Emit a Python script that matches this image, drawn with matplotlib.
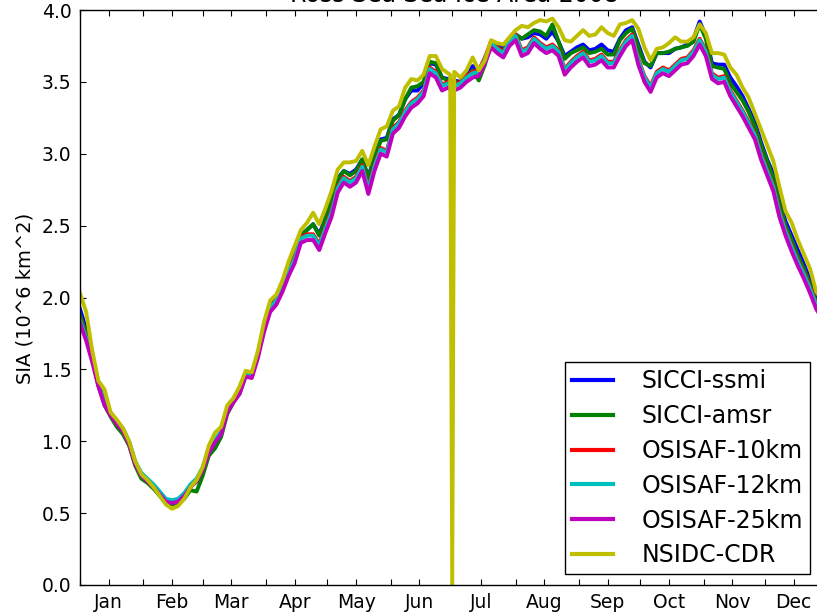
import matplotlib
matplotlib.use("Agg")
import matplotlib.pyplot as plt
from matplotlib.ticker import FixedLocator, NullFormatter, FixedFormatter

# ---- data (day of year, 0 = 1 Jan 2008) ----
days = list(range(0, 181, 3)) + [181, 182] + list(range(183, 364, 3)) + [365]

sicci_ssmi = [
    1.92, 1.78, 1.60, 1.40, 1.27, 1.19, 1.13, 1.08, 0.99, 0.85,
    0.77, 0.73, 0.68, 0.63, 0.58, 0.57, 0.58, 0.62, 0.69, 0.72,
    0.80, 0.93, 0.99, 1.06, 1.21, 1.28, 1.34, 1.47, 1.46, 1.60,
    1.80, 1.95, 1.99, 2.09, 2.21, 2.31, 2.43, 2.47, 2.51, 2.44,
    2.55, 2.67, 2.83, 2.88, 2.86, 2.89, 2.96, 2.84, 2.98, 3.10,
    3.11, 3.24, 3.27, 3.38, 3.44, 3.44, 3.49, 3.63, 3.62, 3.53,
    3.52, 3.51, 3.50, 3.51, 3.50, 3.55, 3.61, 3.57, 3.65, 3.78,
    3.75, 3.73, 3.79, 3.83, 3.80, 3.81, 3.84, 3.83, 3.80, 3.85,
    3.78, 3.68, 3.71, 3.74, 3.76, 3.72, 3.73, 3.76, 3.72, 3.71,
    3.80, 3.86, 3.88, 3.76, 3.64, 3.60, 3.70, 3.70, 3.70, 3.73,
    3.74, 3.76, 3.80, 3.92, 3.82, 3.63, 3.62, 3.62, 3.53, 3.47,
    3.40, 3.31, 3.22, 3.08, 2.96, 2.86, 2.67, 2.53, 2.43, 2.33,
    2.23, 2.12, 1.99, 1.93, 1.87]

sicci_amsr = [
    1.88, 1.75, 1.58, 1.39, 1.25, 1.17, 1.10, 1.05, 0.97, 0.83,
    0.74, 0.71, 0.67, 0.62, 0.57, 0.56, 0.57, 0.60, 0.66, 0.65,
    0.76, 0.90, 0.95, 1.03, 1.19, 1.27, 1.33, 1.46, 1.45, 1.60,
    1.79, 1.94, 1.98, 2.08, 2.20, 2.31, 2.43, 2.47, 2.51, 2.43,
    2.54, 2.66, 2.82, 2.88, 2.85, 2.88, 2.96, 2.83, 2.97, 3.09,
    3.10, 3.23, 3.27, 3.38, 3.46, 3.47, 3.50, 3.64, 3.63, 3.53,
    3.51, 3.50, 3.50, 3.50, 3.49, 3.53, 3.58, 3.51, 3.62, 3.77,
    3.74, 3.72, 3.79, 3.83, 3.80, 3.83, 3.86, 3.85, 3.82, 3.90,
    3.78, 3.66, 3.70, 3.72, 3.74, 3.70, 3.71, 3.73, 3.69, 3.69,
    3.79, 3.84, 3.87, 3.74, 3.63, 3.61, 3.70, 3.70, 3.71, 3.73,
    3.74, 3.75, 3.78, 3.90, 3.80, 3.61, 3.60, 3.59, 3.49, 3.43,
    3.37, 3.29, 3.19, 3.06, 2.95, 2.83, 2.65, 2.50, 2.40, 2.29,
    2.20, 2.09, 1.97, 1.91, 1.85]

osisaf_10km = [
    1.85, 1.72, 1.57, 1.39, 1.26, 1.19, 1.13, 1.08, 0.99, 0.85,
    0.77, 0.73, 0.69, 0.64, 0.59, 0.58, 0.59, 0.63, 0.69, 0.73,
    0.81, 0.93, 1.00, 1.06, 1.21, 1.28, 1.34, 1.46, 1.45, 1.60,
    1.78, 1.94, 1.99, 2.08, 2.19, 2.28, 2.42, 2.44, 2.44, 2.37,
    2.49, 2.60, 2.77, 2.84, 2.81, 2.84, 2.92, 2.76, 2.92, 3.04,
    3.02, 3.18, 3.22, 3.30, 3.36, 3.39, 3.44, 3.60, 3.57, 3.48,
    3.50, 3.49, 3.48, 3.48, 3.50, 3.54, 3.57, 3.58, 3.67, 3.78,
    3.74, 3.71, 3.79, 3.83, 3.72, 3.74, 3.81, 3.77, 3.74, 3.76,
    3.72, 3.59, 3.64, 3.68, 3.71, 3.65, 3.66, 3.69, 3.64, 3.64,
    3.72, 3.79, 3.83, 3.66, 3.54, 3.47, 3.57, 3.60, 3.58, 3.62,
    3.66, 3.67, 3.72, 3.80, 3.72, 3.56, 3.53, 3.54, 3.44, 3.37,
    3.30, 3.22, 3.14, 3.00, 2.89, 2.78, 2.60, 2.47, 2.36, 2.26,
    2.17, 2.07, 1.96, 1.89, 1.82]

osisaf_12km = [
    1.84, 1.72, 1.57, 1.39, 1.27, 1.20, 1.14, 1.09, 1.00, 0.86,
    0.78, 0.74, 0.70, 0.65, 0.60, 0.59, 0.60, 0.64, 0.70, 0.74,
    0.82, 0.94, 1.01, 1.07, 1.22, 1.29, 1.35, 1.47, 1.46, 1.61,
    1.79, 1.93, 1.98, 2.07, 2.18, 2.27, 2.41, 2.43, 2.43, 2.36,
    2.48, 2.59, 2.76, 2.83, 2.80, 2.83, 2.91, 2.75, 2.91, 3.03,
    3.01, 3.17, 3.21, 3.29, 3.35, 3.38, 3.43, 3.59, 3.56, 3.47,
    3.49, 3.48, 3.47, 3.47, 3.49, 3.53, 3.56, 3.57, 3.66, 3.77,
    3.73, 3.70, 3.78, 3.82, 3.71, 3.73, 3.80, 3.76, 3.73, 3.75,
    3.71, 3.58, 3.63, 3.67, 3.70, 3.64, 3.65, 3.68, 3.63, 3.63,
    3.71, 3.78, 3.82, 3.65, 3.53, 3.46, 3.56, 3.59, 3.57, 3.61,
    3.65, 3.66, 3.71, 3.79, 3.71, 3.55, 3.52, 3.53, 3.43, 3.36,
    3.29, 3.21, 3.13, 2.99, 2.88, 2.77, 2.59, 2.46, 2.35, 2.25,
    2.16, 2.06, 1.95, 1.88, 1.81]

osisaf_25km = [
    1.82, 1.70, 1.55, 1.38, 1.25, 1.18, 1.12, 1.07, 0.98, 0.84,
    0.76, 0.72, 0.68, 0.63, 0.58, 0.57, 0.58, 0.62, 0.68, 0.72,
    0.80, 0.92, 0.99, 1.05, 1.20, 1.27, 1.33, 1.45, 1.44, 1.58,
    1.76, 1.90, 1.95, 2.04, 2.15, 2.24, 2.38, 2.40, 2.40, 2.33,
    2.45, 2.56, 2.73, 2.80, 2.77, 2.80, 2.88, 2.72, 2.88, 3.00,
    2.98, 3.14, 3.18, 3.26, 3.32, 3.35, 3.40, 3.56, 3.53, 3.44,
    3.46, 3.45, 3.44, 3.44, 3.46, 3.50, 3.53, 3.54, 3.63, 3.74,
    3.70, 3.67, 3.75, 3.79, 3.68, 3.70, 3.77, 3.73, 3.70, 3.72,
    3.68, 3.55, 3.60, 3.64, 3.67, 3.61, 3.62, 3.65, 3.60, 3.60,
    3.68, 3.75, 3.79, 3.62, 3.50, 3.43, 3.53, 3.56, 3.54, 3.58,
    3.62, 3.63, 3.68, 3.76, 3.68, 3.52, 3.49, 3.50, 3.40, 3.33,
    3.26, 3.18, 3.10, 2.96, 2.85, 2.74, 2.56, 2.43, 2.32, 2.22,
    2.13, 2.03, 1.92, 1.85, 1.78]

nsidc_cdr = [
    2.03, 1.90, 1.63, 1.42, 1.36, 1.20, 1.15, 1.09, 1.00, 0.86,
    0.77, 0.73, 0.68, 0.62, 0.56, 0.53, 0.55, 0.60, 0.68, 0.73,
    0.82, 0.97, 1.06, 1.10, 1.25, 1.30, 1.38, 1.49, 1.48, 1.63,
    1.83, 1.98, 2.02, 2.12, 2.25, 2.36, 2.47, 2.52, 2.59, 2.51,
    2.62, 2.74, 2.89, 2.94, 2.94, 2.95, 3.02, 2.92, 3.05, 3.17,
    3.19, 3.30, 3.33, 3.46, 3.52, 3.51, 3.55, 3.68, 3.68, 3.59,
    3.56, 3.55, 0.00, 3.57, 3.53, 3.58, 3.67, 3.58, 3.65, 3.79,
    3.77, 3.76, 3.81, 3.86, 3.89, 3.88, 3.91, 3.93, 3.92, 3.94,
    3.88, 3.79, 3.78, 3.82, 3.86, 3.82, 3.83, 3.88, 3.84, 3.82,
    3.90, 3.91, 3.93, 3.87, 3.74, 3.65, 3.73, 3.74, 3.77, 3.81,
    3.78, 3.78, 3.81, 3.90, 3.84, 3.70, 3.70, 3.69, 3.60, 3.55,
    3.46, 3.39, 3.28, 3.17, 3.06, 2.95, 2.77, 2.60, 2.52, 2.40,
    2.30, 2.20, 2.04, 1.98, 1.92]

series_names = ["SICCI-ssmi", "SICCI-amsr", "OSISAF-10km",
                "OSISAF-12km", "OSISAF-25km", "NSIDC-CDR"]
series_values = [sicci_ssmi, sicci_amsr, osisaf_10km,
                 osisaf_12km, osisaf_25km, nsidc_cdr]
series_colors = ["#0000ff", "#008000", "#ff0000",
                 "#00bfbf", "#bf00bf", "#bfbf00"]

month_labels = ["Jan", "Feb", "Mar", "Apr", "May", "Jun",
                "Jul", "Aug", "Sep", "Oct", "Nov", "Dec"]
month_starts = [0, 31, 60, 91, 121, 152, 182, 213, 244, 274, 305, 335]
month_mids = [14, 45, 74, 105, 135, 166, 196, 227, 258, 288, 319, 349]

title = "Ross Sea Sea Ice Area 2008"
ylabel = "SIA (10^6 km^2)"

# ---- figure ----
W, H = 817, 612
fig = plt.figure(figsize=(W / 100, H / 100), dpi=100)
ax_left, ax_right, ax_top, ax_bottom = 80, 828.5, 10, 585
ax = fig.add_axes([ax_left / W, 1 - ax_bottom / H,
                   (ax_right - ax_left) / W, (ax_bottom - ax_top) / H])

for name, vals, col in zip(series_names, series_values, series_colors):
    ax.plot(days, vals, color=col, lw=2.8, label=name, solid_joinstyle="round")

ax.set_xlim(0, 366)
ax.set_ylim(0, 4.0)
ax.set_yticks([0, 0.5, 1.0, 1.5, 2.0, 2.5, 3.0, 3.5, 4.0])
ax.set_yticklabels(["0.0", "0.5", "1.0", "1.5", "2.0", "2.5", "3.0", "3.5", "4.0"])

ax.xaxis.set_major_locator(FixedLocator(month_starts))
ax.xaxis.set_major_formatter(NullFormatter())
ax.xaxis.set_minor_locator(FixedLocator(month_mids))
ax.xaxis.set_minor_formatter(FixedFormatter(month_labels))

ax.tick_params(axis="both", which="both", direction="in", top=True, right=True,
               length=4, width=0.8, color="black")
ax.tick_params(axis="x", which="both", labelsize=13.5, pad=6)
ax.tick_params(axis="y", which="both", labelsize=13.5, pad=6)
for sp in ax.spines.values():
    sp.set_linewidth(1.0)
    sp.set_color("black")

ax.set_title(title, fontsize=17, pad=6)
fig.text(25 / W, 1 - 298 / H, ylabel, rotation=90, ha="center", va="center",
         fontsize=14)

leg = ax.legend(loc="upper left", bbox_to_anchor=(565 / W, 1 - 362 / H),
                bbox_transform=fig.transFigure, borderaxespad=0,
                fontsize=17, frameon=True, fancybox=False, framealpha=1,
                edgecolor="black", borderpad=0.3, labelspacing=0.46,
                handlelength=1.75, handletextpad=1.2)
leg.get_frame().set_linewidth(1.0)
for l in leg.get_lines():
    l.set_linewidth(3.0)

fig.savefig("out.png", dpi=100)
